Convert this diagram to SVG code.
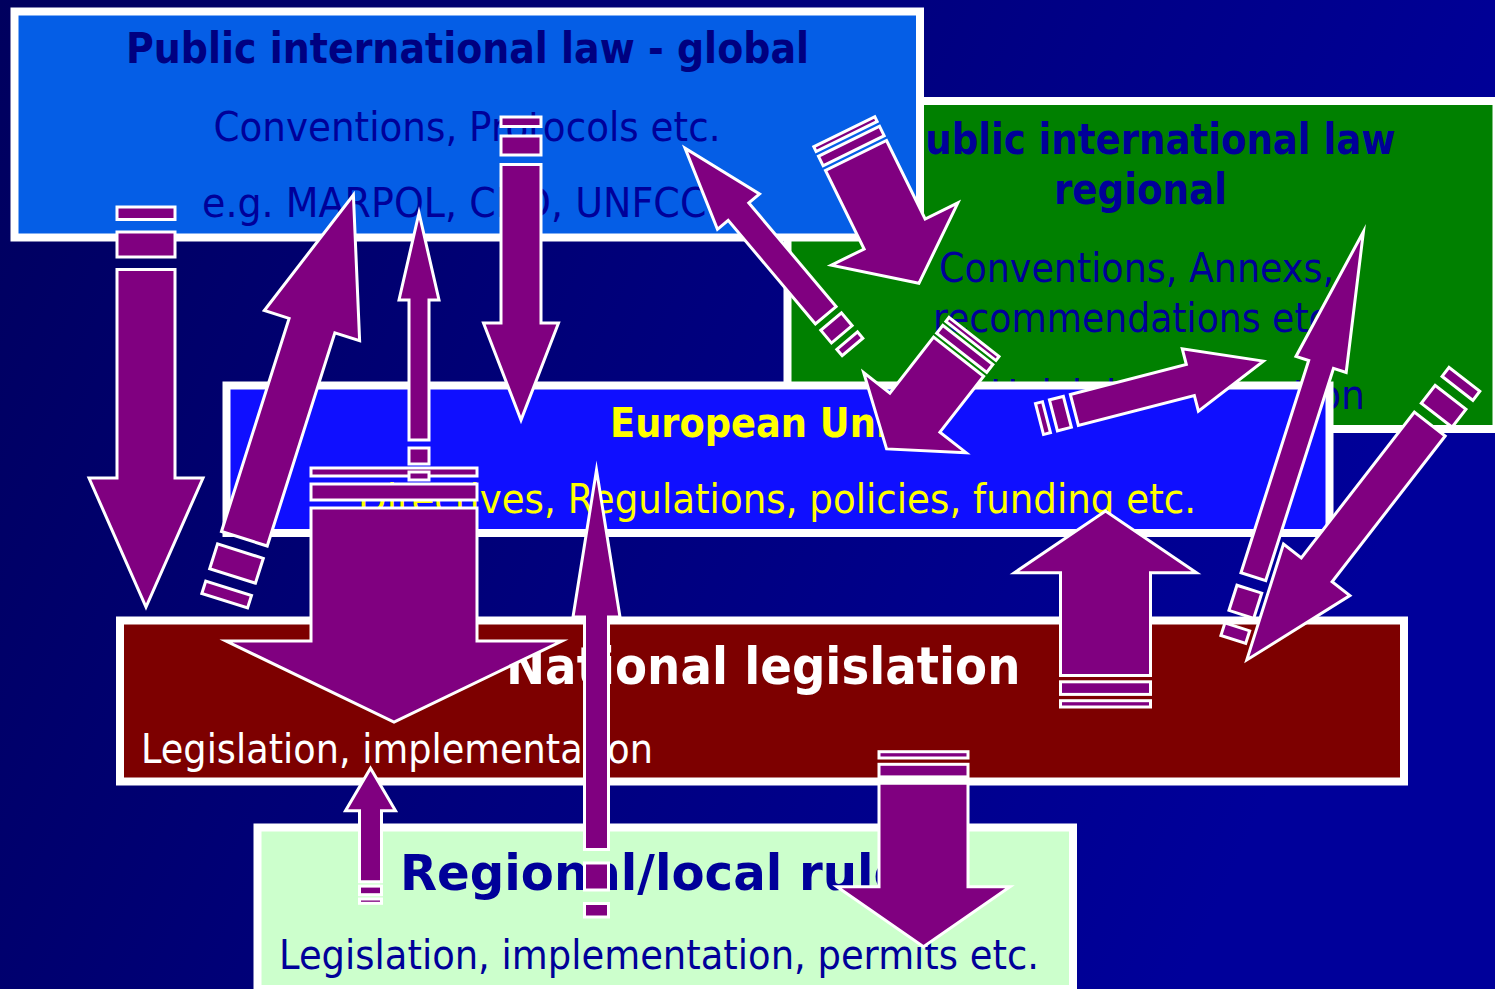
<svg xmlns="http://www.w3.org/2000/svg" width="1495" height="989" viewBox="0 0 1495 989">
<defs>
<linearGradient id="bg" x1="0" y1="0" x2="1" y2="0.3">
<stop offset="0" stop-color="#00005E"/>
<stop offset="1" stop-color="#00009A"/>
</linearGradient>
</defs>
<style>
.box{stroke:#fff;stroke-width:8}
.t{font-family:"DejaVu Sans","Liberation Sans",sans-serif;font-size:40px}
.b{font-weight:bold}
.s42{font-size:42px}
.s50{font-size:50px}
.s52{font-size:52px}
.arr rect,.arr polygon{fill:#800080;stroke:#fff;stroke-width:3;stroke-miterlimit:10}
</style>
<rect width="1495" height="989" fill="url(#bg)"/>
<g id="regional-intl">
<rect class="box" x="787.5" y="101" width="709" height="328" fill="#008000"/>
<text class="t b s42" x="898" y="154" textLength="497.6" lengthAdjust="spacingAndGlyphs" fill="#000099">Public international law</text>
<text class="t b s42" x="1054" y="203.5" textLength="173" lengthAdjust="spacingAndGlyphs" fill="#000099">regional</text>
<text class="t" x="939" y="282" textLength="395" lengthAdjust="spacingAndGlyphs" fill="#000099">Conventions, Annexs,</text>
<text class="t" x="933" y="332" textLength="407" lengthAdjust="spacingAndGlyphs" fill="#000099">recommendations etc.</text>
<text class="t" x="907" y="408.5" textLength="458" lengthAdjust="spacingAndGlyphs" fill="#000099">e.g. Helsinki Convention</text>
</g>
<g id="global-intl">
<rect class="box" x="14.5" y="11.5" width="905.5" height="226" fill="#055EE6"/>
<text class="t b s42" x="126" y="63" textLength="683" lengthAdjust="spacingAndGlyphs" fill="#000080">Public international law - global</text>
<text class="t" x="213.5" y="141" textLength="507" lengthAdjust="spacingAndGlyphs" fill="#000099">Conventions, Protocols etc.</text>
<text class="t" x="202" y="217" textLength="531" lengthAdjust="spacingAndGlyphs" fill="#000099">e.g. MARPOL, CBD, UNFCCC</text>
</g>
<g id="eu">
<rect class="box" x="226.5" y="385.5" width="1103" height="147.5" fill="#0F0FFF"/>
<text class="t b" x="610" y="437" textLength="330" lengthAdjust="spacingAndGlyphs" fill="#FFFF00">European Union</text>
<text class="t" x="358" y="513" textLength="838" lengthAdjust="spacingAndGlyphs" fill="#FFFF00">Directives, Regulations, policies, funding etc.</text>
</g>
<g id="national">
<rect class="box" x="120" y="620.5" width="1284" height="161" fill="#7D0000"/>
<text class="t b s52" x="506" y="683.5" textLength="514.5" lengthAdjust="spacingAndGlyphs" fill="#FFFFFF">National legislation</text>
<text class="t" x="141" y="762.5" textLength="512" lengthAdjust="spacingAndGlyphs" fill="#FFFFFF">Legislation, implementation</text>
</g>
<g id="local">
<rect class="box" x="257.5" y="827.5" width="815.5" height="161.5" fill="#CCFFCC"/>
<text class="t b s50" x="400" y="890" textLength="535" lengthAdjust="spacingAndGlyphs" fill="#000099">Regional/local rules</text>
<text class="t" x="279" y="968.5" textLength="760" lengthAdjust="spacingAndGlyphs" fill="#000099">Legislation, implementation, permits etc.</text>
</g>
<g id="connectors" class="arr">
<g transform="translate(146 207) rotate(90)"><rect x="0" y="-29" width="12.5" height="58"/><rect x="25" y="-29" width="25" height="58"/><polygon points="62.5,-29 271,-29 271,-57 400,0 271,57 271,29 62.5,29"/></g>
<g transform="translate(224.7 600.7) rotate(-72.4)"><rect x="0" y="-24" width="13" height="48"/><rect x="26" y="-24" width="26" height="48"/><polygon points="65,-24 288.6,-24 288.6,-50 425.6,0 288.6,50 288.6,24 65,24"/></g>
<g transform="translate(394 468) rotate(90)"><rect x="0" y="-83" width="8" height="166"/><rect x="16" y="-83" width="16" height="166"/><polygon points="40,-83 173,-83 173,-168 254,0 173,168 173,83 40,83"/></g>
<g transform="translate(419 480) rotate(-90)"><rect x="0" y="-10" width="8" height="20"/><rect x="16" y="-10" width="16" height="20"/><polygon points="40,-10 180,-10 180,-20 267,0 180,20 180,10 40,10"/></g>
<g transform="translate(521 117) rotate(90)"><rect x="0" y="-20" width="9.5" height="40"/><rect x="19" y="-20" width="19" height="40"/><polygon points="47.5,-20 206,-20 206,-37.5 303,0 206,37.5 206,20 47.5,20"/></g>
<g transform="translate(852.5 347) rotate(-130.1)"><rect x="0" y="-13.5" width="8.3" height="27"/><rect x="16.6" y="-13.5" width="16.6" height="27"/><polygon points="41.5,-13.5 177,-13.5 177,-27.5 260,0 177,27.5 177,13.5 41.5,13.5"/></g>
<g transform="translate(844.3 131.7) rotate(63.8)"><rect x="0" y="-34" width="5.3" height="68"/><rect x="10.6" y="-34" width="10.6" height="68"/><polygon points="26.5,-34 114,-34 114,-70.5 169,0 114,70.5 114,34 26.5,34"/></g>
<g transform="translate(974 337) rotate(128)"><rect x="0" y="-31.75" width="5" height="63.5"/><rect x="10" y="-31.75" width="10" height="63.5"/><polygon points="25,-31.75 96,-31.75 96,-65 142,0 96,65 96,31.75 25,31.75"/></g>
<g transform="translate(1039.5 419) rotate(-14.5)"><rect x="0" y="-16" width="7.2" height="32"/><rect x="14.4" y="-16" width="14.4" height="32"/><polygon points="36,-16 155.8,-16 155.8,-32.2 231.2,0 155.8,32.2 155.8,16 36,16"/></g>
<g transform="translate(1233.3 639.5) rotate(-72.3)"><rect x="0" y="-13" width="13.2" height="26"/><rect x="26.4" y="-13" width="26.4" height="26"/><polygon points="66,-13 288.7,-13 288.7,-26.35 428,0 288.7,26.35 288.7,13 66,13"/></g>
<g transform="translate(1464.4 379.4) rotate(127.8)"><rect x="0" y="-19.5" width="11.3" height="39"/><rect x="22.6" y="-19.5" width="22.6" height="39"/><polygon points="56.5,-19.5 241,-19.5 241,-42 355,0 241,42 241,19.5 56.5,19.5"/></g>
<g transform="translate(1105.5 707) rotate(-90)"><rect x="0" y="-45" width="6.3" height="90"/><rect x="12.6" y="-45" width="12.6" height="90"/><polygon points="31.5,-45 134.3,-45 134.3,-91 196,0 134.3,91 134.3,45 31.5,45"/></g>
<g transform="translate(923.5 751.7) rotate(90)"><rect x="0" y="-44.5" width="6.3" height="89"/><rect x="12.6" y="-44.5" width="12.6" height="89"/><polygon points="31.5,-44.5 135,-44.5 135,-86.5 195,0 135,86.5 135,44.5 31.5,44.5"/></g>
<g transform="translate(370.5 903.3) rotate(-90)"><rect x="0" y="-11" width="4.3" height="22"/><rect x="8.6" y="-11" width="8.6" height="22"/><polygon points="21.5,-11 92.6,-11 92.6,-25 135,0 92.6,25 92.6,11 21.5,11"/></g>
<g transform="translate(596.5 917) rotate(-90)"><rect x="0" y="-12" width="13.5" height="24"/><rect x="27" y="-12" width="27" height="24"/><polygon points="67.5,-12 300,-12 300,-23.5 447,0 300,23.5 300,12 67.5,12"/></g>
</g>
</svg>
